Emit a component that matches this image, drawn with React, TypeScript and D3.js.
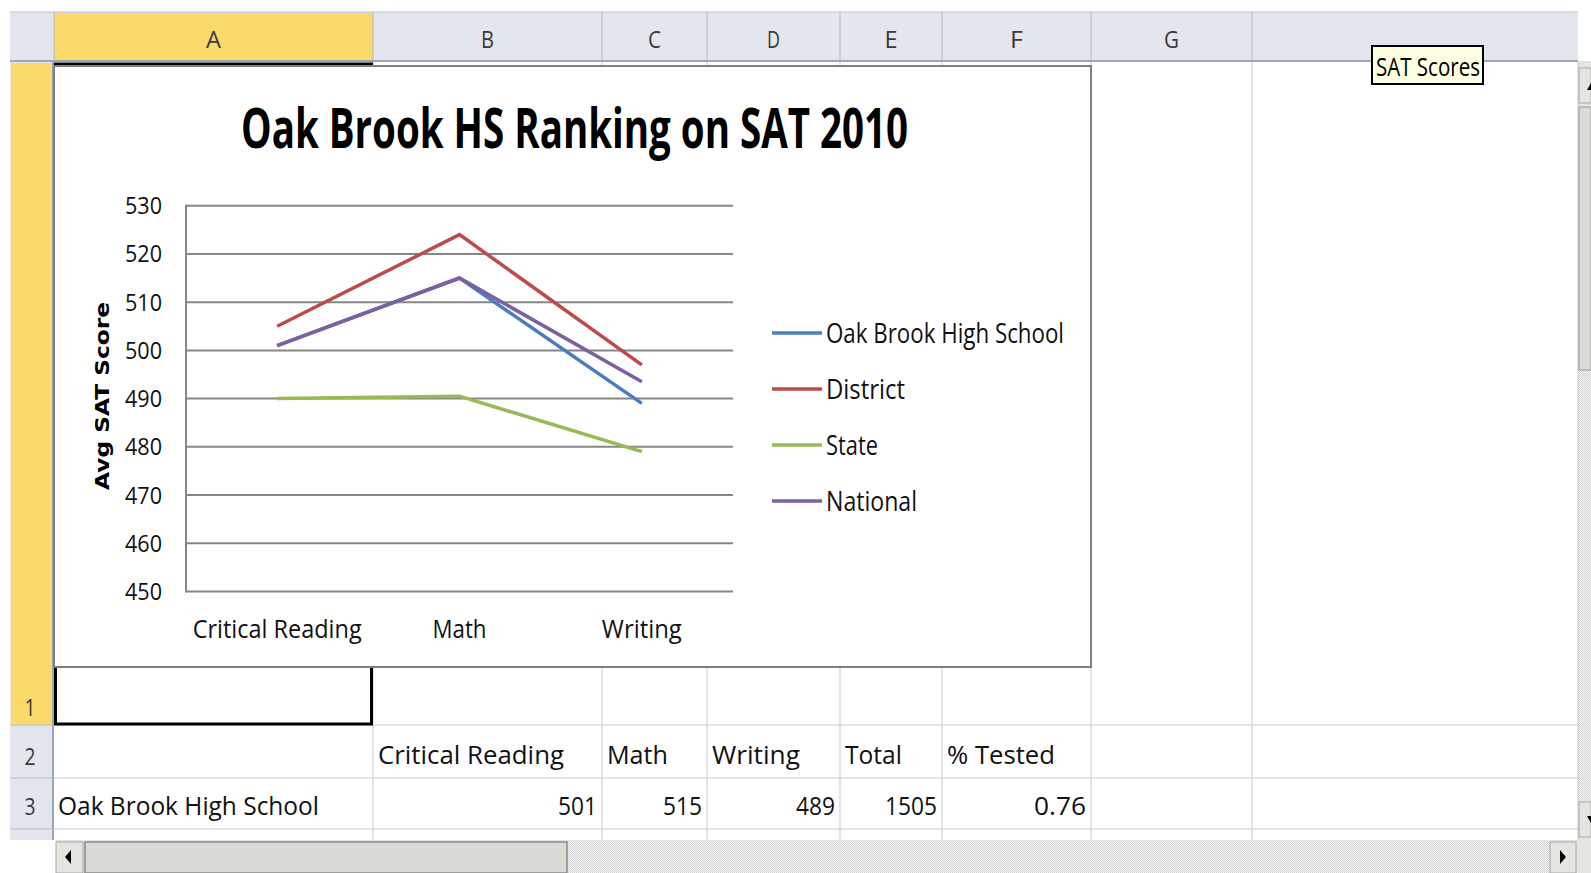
import React from "react";
import * as d3 from "d3";

// ---------- data ----------
const categories = ["Critical Reading", "Math", "Writing"];
const seriesNames = ["Oak Brook High School", "District", "State", "National"];
const oakBrook = [501, 515, 489];
const district = [505, 524, 497];
const stateAvg = [490, 490.5, 479];
const national = [501, 515, 493.5];
const yTicks = [450, 460, 470, 480, 490, 500, 510, 520, 530];
const columnLetters = ["A", "B", "C", "D", "E", "F", "G"];
const rowNumbers = ["1", "2", "3"];
const tableHeader = ["", "Critical Reading", "Math", "Writing", "Total", "% Tested"];
const tableRowLabel = "Oak Brook High School";
const tableRowValues = ["501", "515", "489", "1505", "0.76"];
const chartTitle = "Oak Brook HS Ranking on SAT 2010";
const yAxisTitle = "Avg SAT Score";
const tooltipText = "SAT Scores";

const seriesValues = [oakBrook, district, stateAvg, national];
const seriesColors = ["#4a7ebb", "#be4b48", "#98b954", "#7d60a0"];

// ---------- layout ----------
const W = 1591, H = 873;
const colEdges = [54, 373, 602, 707, 840, 942, 1091, 1252, 1578];
const rowEdges = [62, 725, 778, 829, 840];
const headerTop = 12, headerBottom = 61;
const rowHdrL = 10, rowHdrR = 53;
const chartBox = { x: 54, y: 66, w: 1037, h: 601 };
const plot = { x0: 186, x1: 733, y0: 591.5, y1: 205.7 };

const FONT = "'Open Sans', 'Liberation Sans', sans-serif";

const textWidths: Record<string, number> = {
  title: 667,
  "cat:Critical Reading": 169, "cat:Math": 54, "cat:Writing": 80,
  "leg:Oak Brook High School": 238, "leg:District": 79, "leg:State": 52, "leg:National": 91,
  "cell:Critical Reading": 186, "cell:Math": 61, "cell:Writing": 88, "cell:Total": 57, "cell:% Tested": 108,
  "cell:Oak Brook High School": 261,
};

function T(props: any) {
  const { w, children, ...rest } = props;
  const extra: any = w ? { textLength: w, lengthAdjust: "spacingAndGlyphs" } : {};
  return (
    <text fontFamily={FONT} {...extra} {...rest}>
      {children}
    </text>
  );
}

export default function App() {
  const x = d3.scalePoint<string>().domain(categories).range([plot.x0, plot.x1]).padding(0.5);
  const y = d3.scaleLinear().domain([450, 530]).range([plot.y0, plot.y1]);
  const line = d3
    .line<number>()
    .x((_, i) => x(categories[i]) as number)
    .y((d) => y(d));

  const gridColor = "#dadcdd";
  const hdrFill = "#e4e6ee";
  const hdrLine = "#b5bac8";
  const yellow = "#f9da6b";

  const hatchTop = 370, hatchBottom = 802;

  return (
    <div style={{ position: "fixed", left: 0, top: 0, width: W, height: H, overflow: "hidden", background: "#fff" }}>
      <svg width={W} height={H} style={{ display: "block" }}>
        <defs>
          <pattern id="hatch" width="2" height="2" patternUnits="userSpaceOnUse">
            <rect width="2" height="2" fill="#f2f2f2" />
            <rect width="1" height="1" fill="#d4d4d4" />
            <rect x="1" y="1" width="1" height="1" fill="#d4d4d4" />
          </pattern>
        </defs>
        <rect width={W} height={H} fill="#fff" />

        {/* column header band */}
        <rect x={rowHdrL} y={headerTop} width={1578 - rowHdrL} height={headerBottom - headerTop} fill={hdrFill} />
        <line x1={rowHdrL} x2={1578} y1={headerTop} y2={headerTop} stroke="#cfd3dc" strokeWidth={1.5} />
        <rect x={colEdges[0]} y={headerTop + 1} width={colEdges[1] - colEdges[0]} height={headerBottom - headerTop - 1} fill={yellow} />
        {colEdges.slice(0, 8).map((cx, i) => (
          <line key={"hc" + i} x1={cx} x2={cx} y1={headerTop} y2={headerBottom} stroke={hdrLine} strokeWidth={1} />
        ))}
        <line x1={rowHdrL} x2={1578} y1={headerBottom} y2={headerBottom} stroke="#9ea5b4" strokeWidth={2} />
        {columnLetters.map((c, i) => (
          <T key={"cl" + c} x={(colEdges[i] + colEdges[i + 1]) / 2} y={48} fontSize={24} textAnchor="middle" fill="#3a3a3a" w={c === "A" || c === "G" ? 15 : 13}>
            {c}
          </T>
        ))}

        {/* row header band */}
        <rect x={rowHdrL} y={headerBottom + 1} width={rowHdrR - rowHdrL} height={840 - headerBottom - 1} fill={hdrFill} />
        <rect x={rowHdrL + 1} y={rowEdges[0] + 1} width={rowHdrR - rowHdrL - 2} height={rowEdges[1] - rowEdges[0] - 1} fill={yellow} />
        <line x1={rowHdrR} x2={rowHdrR} y1={headerBottom} y2={840} stroke="#9ea5b4" strokeWidth={2} />
        {rowEdges.slice(1, 4).map((ry, i) => (
          <line key={"rh" + i} x1={rowHdrL} x2={rowHdrR} y1={ry} y2={ry} stroke={hdrLine} strokeWidth={1} />
        ))}
        {rowNumbers.map((r, i) => (
          <T key={"rn" + r} x={30} y={[716, 765, 815][i]} fontSize={24} textAnchor="middle" fill="#3a3a3a" w={11}>
            {r}
          </T>
        ))}

        {/* cell grid */}
        {colEdges.slice(1, 8).map((cx, i) => (
          <line key={"gc" + i} x1={cx} x2={cx} y1={headerBottom + 1} y2={840} stroke={gridColor} strokeWidth={1.5} />
        ))}
        {rowEdges.slice(1, 4).map((ry, i) => (
          <line key={"gr" + i} x1={rowHdrR + 1} x2={1578} y1={ry} y2={ry} stroke={gridColor} strokeWidth={1.5} />
        ))}

        {/* selected cell A1 */}
        <rect x={colEdges[0] + 1.5} y={rowEdges[0] + 2} width={colEdges[1] - colEdges[0] - 3} height={rowEdges[1] - rowEdges[0] - 3} fill="none" stroke="#000" strokeWidth={3} />

        {/* table text */}
        {tableHeader.map((t, i) =>
          t ? (
            <T key={"th" + i} x={colEdges[i] + 5} y={764} fontSize={25} fill="#111" w={textWidths["cell:" + t]}>
              {t}
            </T>
          ) : null
        )}
        <T x={colEdges[0] + 4} y={815} fontSize={25} fill="#111" w={textWidths["cell:" + tableRowLabel]}>
          {tableRowLabel}
        </T>
        {tableRowValues.map((v, i) => (
          <T key={"tv" + i} x={colEdges[i + 2] - 5} y={815} fontSize={25} fill="#111" textAnchor="end" w={v.length * 13}>
            {v}
          </T>
        ))}

        {/* chart */}
        <rect x={chartBox.x} y={chartBox.y} width={chartBox.w} height={chartBox.h} fill="#fff" stroke="#7f7f7f" strokeWidth={2} />
        <T x={241} y={148} fontSize={55} fontWeight="bold" fill="#000" w={textWidths.title}>
          {chartTitle}
        </T>

        {yTicks.map((t) => (
          <g key={"yt" + t}>
            <line x1={plot.x0} x2={plot.x1} y1={y(t)} y2={y(t)} stroke="#868686" strokeWidth={2} />
            <T x={162} y={y(t) + 8.5} fontSize={24} textAnchor="end" fill="#111" w={37}>
              {t}
            </T>
          </g>
        ))}
        <line x1={plot.x0} x2={plot.x0} y1={plot.y1 - 1} y2={plot.y0 + 1} stroke="#868686" strokeWidth={2} />

        <text
          transform={`translate(109, 396) rotate(-90)`}
          textAnchor="middle"
          fontFamily="'DejaVu Sans', Verdana, sans-serif"
          fontWeight="bold"
          fontSize={19}
          textLength={188}
          lengthAdjust="spacingAndGlyphs"
          fill="#000"
        >
          {yAxisTitle}
        </text>

        {categories.map((c) => (
          <T key={"cat" + c} x={x(c)} y={638} fontSize={25} textAnchor="middle" fill="#111" w={textWidths["cat:" + c]}>
            {c}
          </T>
        ))}

        {seriesValues.map((vals, i) => (
          <path key={"s" + i} d={line(vals) as string} fill="none" stroke={seriesColors[i]} strokeWidth={3.5} strokeLinejoin="miter" />
        ))}

        {seriesNames.map((n, i) => {
          const ly = 333 + i * 56;
          return (
            <g key={"lg" + n}>
              <line x1={772} x2={822} y1={ly} y2={ly} stroke={seriesColors[i]} strokeWidth={3.5} />
              <T x={826} y={ly + 10} fontSize={27} fill="#111" w={textWidths["leg:" + n]}>
                {n}
              </T>
            </g>
          );
        })}

        {/* tooltip */}
        <rect x={1372} y={46} width={111} height={38} fill="#ffffe1" stroke="#000" strokeWidth={2} />
        <T x={1376} y={76} fontSize={26} fill="#000" w={104}>
          {tooltipText}
        </T>

        {/* vertical scrollbar */}
        <rect x={1578} y={headerBottom} width={W - 1578} height={840 - headerBottom} fill="url(#hatch)" />
        <line x1={1578} x2={1578} y1={headerBottom} y2={840} stroke="#c8c8c8" strokeWidth={1} />
        <rect x={1579} y={68} width={12} height={35} fill="#e6e4df" stroke="#a8a8a8" strokeWidth={1} />
        <path d="M1587,90 L1591,83 L1591,90 Z" fill="#000" />
        <rect x={1579} y={107} width={12} height={hatchTop - 107} fill="#dcdad5" stroke="#9a9a9a" strokeWidth={1} />
        <rect x={1579} y={hatchBottom} width={12} height={35} fill="#e6e4df" stroke="#a8a8a8" strokeWidth={1} />
        <path d="M1587,816 L1591,816 L1591,823 Z" fill="#000" />

        {/* horizontal scrollbar */}
        <rect x={0} y={840} width={W} height={H - 840} fill="#fff" />
        <rect x={56} y={840} width={1522} height={H - 840} fill="url(#hatch)" />
        <rect x={56} y={842} width={27} height={31} fill="#e6e4df" stroke="#a8a8a8" strokeWidth={1} />
        <path d="M65,857 L71,850 L71,864 Z" fill="#000" />
        <rect x={85} y={842} width={482} height={31} fill="#dcdad5" stroke="#8a8a8a" strokeWidth={1.5} />
        <rect x={1550} y={842} width={26} height={31} fill="#e6e4df" stroke="#a8a8a8" strokeWidth={1} />
        <path d="M1566,857 L1560,850 L1560,864 Z" fill="#000" />
        <rect x={1578} y={840} width={13} height={33} fill="#e6e4df" />
      </svg>
    </div>
  );
}
